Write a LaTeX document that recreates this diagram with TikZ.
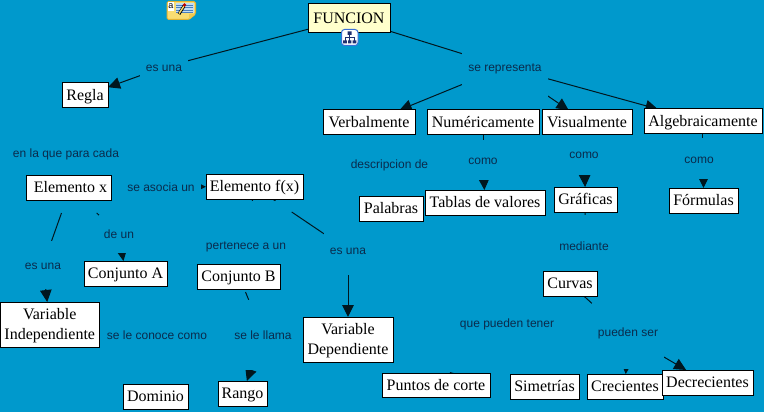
\documentclass[tikz,border=0pt]{standalone}
\usepackage{fontspec}
\setmainfont{Liberation Serif}
\setsansfont{Liberation Sans}
\usetikzlibrary{arrows.meta}
\pgfdeclarelayer{bgl}
\pgfdeclarelayer{edges}
\pgfsetlayers{bgl,edges,main}
\definecolor{mapblue}{HTML}{0099CC}
\definecolor{labtext}{HTML}{0A2B4C}
\definecolor{concept}{HTML}{FFFFFF}
\definecolor{rootfill}{HTML}{FFFFCC}
\definecolor{notefill}{HTML}{F9DD72}
\definecolor{noteedge}{HTML}{E2B233}
\definecolor{notefold}{HTML}{F3C94F}
\definecolor{notepaper}{HTML}{C4DDF2}
\definecolor{noteline}{HTML}{4A7FC0}
\definecolor{iconblue}{HTML}{3A6FD8}
\definecolor{icondark}{HTML}{1F2F6F}
\tikzset{
  box/.style={draw=black,line width=1pt,fill=concept,inner sep=0pt,outer sep=0pt,align=center,text=black,
    font=\fontsize{16}{20}\selectfont,text height=10.4pt,text depth=0pt},
  twolines/.style={text height={},text depth={}},
  lab/.style={fill=mapblue,inner sep=0pt,outer sep=0pt,align=center,text=labtext,
    font=\sffamily\fontsize{12}{14}\selectfont,text height=9.4pt,text depth=0pt},
  conn/.style={draw=black!85!mapblue,line width=1pt},
  arr/.style={conn,-{Triangle[length=12pt,width=11.5pt]}},
}
% name, x1, y1, x2, y2, text
\newcommand{\cbox}[7][]{%
  \pgfmathsetmacro{\cw}{#5-#3}\pgfmathsetmacro{\ch}{#6-#4}%
  \pgfmathsetmacro{\cx}{(#3+#5)/2}\pgfmathsetmacro{\cy}{(#4+#6)/2}%
  \node[box,minimum width=\cw pt,minimum height=\ch pt,#1] (#2) at (\cx,\cy) {#7};}
% name, cx, cy, half width, half height, text
\newcommand{\clab}[7][]{%
  \pgfmathsetmacro{\cw}{2*#5}\pgfmathsetmacro{\ch}{2*#6}%
  \node[lab,minimum width=\cw pt,minimum height=\ch pt,#1] (#2) at (#3,#4) {#7};}
\begin{document}
\begin{tikzpicture}[x=1pt,y=-1pt]
\begin{pgfonlayer}{bgl}
\fill[mapblue] (0,0) rectangle (764,412);
\end{pgfonlayer}
\useasboundingbox (0,0) rectangle (764,412);

% linking phrases (their blue plates hide parts of the connectors)
\clab{lEsUna}{164}{67}{24}{20}{es una}
\clab{lRepr}{505}{67}{43}{30}{se representa}
\clab{lPara}{66}{153}{55}{10}{en la que para cada}
\clab{lAsocia}{161}{187}{40}{10}{se asocia un}
\clab{lDescr}{389.5}{164}{40}{10}{descripcion de}
\clab{lComoN}{483}{160}{20}{20}{como}
\clab{lComoV}{584}{154}{20}{21}{como}
\clab{lComoA}{699}{158.5}{20}{20.5}{como}
\clab{lDeUn}{119}{234}{20}{19}{de un}
\clab{lEsVar}{43}{265}{20}{24}{es una}
\clab{lPert}{246}{245}{42}{44}{pertenece a un}
\clab{lEsDep}{348}{250}{24}{25}{es una}
\clab{lConoce}{157}{335}{52}{10}{se le conoce como}
\clab{lLlama}{263}{335}{32}{35}{se le llama}
\clab{lMedia}{584}{246}{28}{31}{mediante}
\clab{lTener}{507}{323}{62}{48.5}{que pueden tener}
\clab[text height=1.4pt]{lSer}{628}{336}{36}{33}{pueden ser}

% concepts
\cbox[fill=rootfill]{funcion}{308}{4}{390}{33}{FUNCION}
\cbox{regla}{62}{83}{108}{108}{Regla}
\cbox{verbal}{323}{110}{415}{135}{Verbalmente}
\cbox{numer}{427}{110}{539}{135}{Numéricamente}
\cbox{visual}{542}{110}{632}{135}{Visualmente}
\cbox{algeb}{644}{109}{762}{134}{Algebraicamente}
\cbox{elx}{26}{175}{111}{200}{\hspace*{4pt}Elemento x}
\cbox{elf}{206}{174}{303}{199}{Elemento f(x)}
\cbox{palabras}{359}{196}{423}{221}{Palabras}
\cbox{tablas}{425}{190}{545}{215}{Tablas de valores}
\cbox{graficas}{554}{187}{617}{212}{Gráficas}
\cbox{formulas}{669}{188}{738}{213}{Fórmulas}
\cbox{conjA}{84}{261}{167}{286}{Conjunto A}
\cbox{conjB}{197}{264}{280}{289}{Conjunto B}
\cbox[twolines]{varInd}{0.5}{302}{99}{347}{\rule{0pt}{13.2pt}Variable\\Independiente}
\cbox[twolines]{varDep}{303}{317}{393}{362}{\rule{0pt}{13.2pt}Variable\\Dependiente}
\cbox{dominio}{123}{384}{188}{409}{Dominio}
\cbox{rango}{218}{381}{267}{406}{Rango}
\cbox{curvas}{543}{271}{597}{296}{Curvas}
\cbox{puntos}{382}{373}{490}{397}{Puntos de corte}
\cbox{simet}{510}{374}{579}{399}{Simetrías}
\cbox{crec}{587}{374}{663}{399}{Crecientes}
\cbox{decrec}{662}{370}{753}{395}{Decrecientes}

% free ends of interrupted connectors
\coordinate (exA) at (61.5,213);
\coordinate (exB) at (96.7,213);
\coordinate (efA) at (275.5,201);
\coordinate (efB) at (291.7,212);
\coordinate (cbA) at (245.5,292);
\coordinate (agA) at (702,134);
\coordinate (agB) at (702,138);

\begin{pgfonlayer}{edges}
\draw[conn] (funcion) -- (lEsUna);
\draw[arr] (lEsUna) -- (regla);
\draw[conn] (funcion) -- (lRepr);
\draw[arr] (lRepr) -- (verbal);
\draw[arr] (lRepr) -- (visual);
\draw[arr] (lRepr) -- (algeb);
\draw[conn] (numer) -- (lComoN);
\draw[arr] (lComoN) -- (tablas);
\draw[arr] (lComoV) -- (graficas);
\draw[conn] (agA) -- (agB);
\draw[arr] (lComoA.center -| formulas.center) -- (formulas);
\draw[arr] (lAsocia) -- (elf);
\draw[conn] (exA) -- (lEsVar);
\draw[arr] (lEsVar) -- (varInd);
\draw[conn] (exB) -- (lDeUn);
\draw[arr] (lDeUn) -- (conjA);
\draw[conn] (elf) -- (lPert);
\draw[conn] (elf) -- (efA);
\draw[conn] (efB) -- (lEsDep);
\draw[arr] (lEsDep) -- (varDep);
\draw[conn] (cbA) -- (lLlama);
\draw[arr] (lLlama) -- (rango);
\draw[conn] (graficas) -- (lMedia);
\draw[conn] (curvas) -- (lSer);
\draw[arr] (lSer) -- (crec);
\draw[arr] (lSer) -- (decrec);
\draw[arr] (lTener) -- (puntos);
\end{pgfonlayer}

% note icon
\draw[draw=noteedge,fill=notefill,line width=1pt,rounded corners=1.5pt]
  (167,1.5) -- (195.5,1.5) -- (195.5,14) -- (189,19.5) -- (167,19.5) -- cycle;
\fill[notefold] (189,19.5) -- (189,14) -- (195.5,14) -- cycle;
\fill[white] (168,2.5) rectangle (174,11);
\node[inner sep=0pt,font=\sffamily\fontsize{9}{9}\selectfont,text=black] (noteA) at (171,6.5) {a};
\fill[notepaper] (175.5,3.5) rectangle (193.5,13.5);
\foreach \ly in {5,7.5,10,12.5} \draw[noteline,line width=.6pt] (176,\ly) -- (193,\ly);
\draw[black,line width=3pt] (179,14) -- (184,6);
\draw[notefill,line width=1.5pt] (179,13.5) -- (184,6);
\fill[red!75!black] (184.5,5) circle (1.8pt);

% sub-map icon
\draw[draw=iconblue,fill=white,line width=1pt,rounded corners=3pt] (341.5,29.5) rectangle (358,45.5);
\draw[icondark,line width=.7pt] (349.7,34) -- (349.7,41) (345,41) -- (345,37.5) -- (354.5,37.5) -- (354.5,41);
\fill[icondark] (347.7,31.5) rectangle (351.7,35) (343.2,40.5) rectangle (346.8,43.5) (348,40.5) rectangle (351.4,43.5) (352.7,40.5) rectangle (356.3,43.5);
\end{tikzpicture}
\end{document}
